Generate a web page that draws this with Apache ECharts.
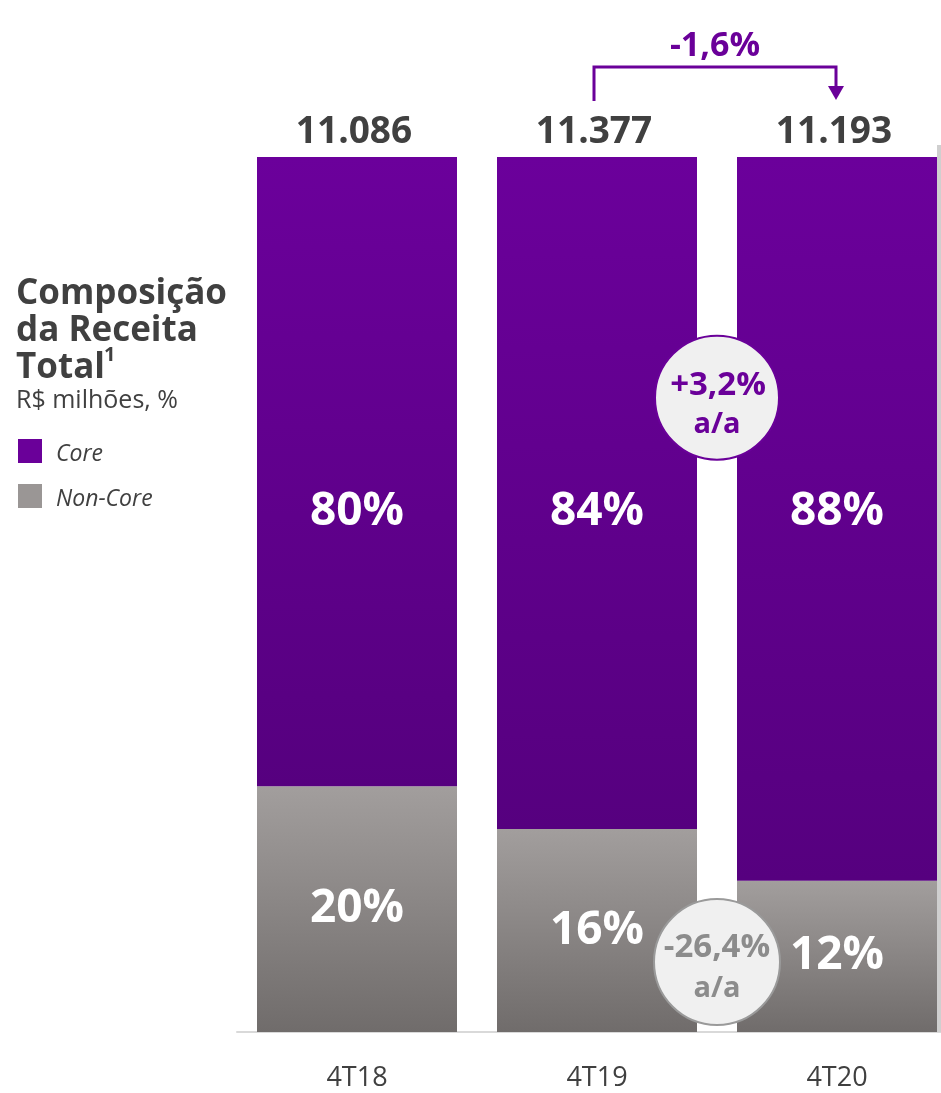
<!DOCTYPE html>
<html><head><meta charset="utf-8">
<script src="https://cdn.jsdelivr.net/npm/echarts@6/dist/echarts.min.js"></script>
<style>html,body{margin:0;padding:0;background:#fff}#c{width:941px;height:1093px}</style>
</head><body><div id="c"></div>
<script>
// Data
const categories = ['4T18', '4T19', '4T20'];
const totals = ['11.086', '11.377', '11.193'];
const coreLabels = ['80%', '84%', '88%'];
const nonCoreLabels = ['20%', '16%', '12%'];
// segment heights as drawn in the picture (share of bar height, %)
const nonCoreBar = [28.1, 23.2, 17.3];
const coreBar = nonCoreBar.map(v => +(100 - v).toFixed(1));
const variationTotal = '-1,6%';
const variationCore = '+3,2%';
const variationNonCore = '-26,4%';

const FONT = '"Open Sans", "Noto Sans", sans-serif';
const PURPLE = '#6a0099';
const DARK = '#404040';
const CORE_LABEL_LEVEL = 59.4; // axis value where core % labels sit

const chart = echarts.init(document.getElementById('c'));
const purpleGrad = new echarts.graphic.LinearGradient(0, 0, 0, 1, [
  {offset: 0, color: '#6b009b'}, {offset: 1, color: '#56007f'}]);
const grayGrad = new echarts.graphic.LinearGradient(0, 0, 0, 1, [
  {offset: 0, color: '#a29e9d'}, {offset: 1, color: '#706c6b'}]);

const option = {
  animation: false,
  grid: {left: 237, width: 720, top: 157, height: 875, outerBoundsMode: 'none', containLabel: false},
  xAxis: {
    type: 'category', data: categories,
    axisLine: {lineStyle: {color: '#d9d9d9', width: 2}},
    axisTick: {show: false},
    axisLabel: {color: DARK, fontFamily: FONT, fontSize: 27, margin: 33}
  },
  yAxis: {type: 'value', min: 0, max: 100, show: false},
  series: [
    {
      name: 'Non-Core', type: 'bar', stack: 't', barWidth: 200,
      data: nonCoreBar,
      itemStyle: {color: grayGrad},
      label: {show: true, position: 'inside', color: '#fff', fontFamily: FONT,
        fontWeight: 'bold', fontSize: 46,
        formatter: p => nonCoreLabels[p.dataIndex]}
    },
    {
      name: 'Core', type: 'bar', stack: 't', barWidth: 200,
      data: coreBar.map((v, i) => ({
        value: v,
        label: {position: ['50%', ((100 - CORE_LABEL_LEVEL) / v * 100).toFixed(2) + '%']}
      })),
      itemStyle: {color: purpleGrad},
      label: {show: true, color: '#fff', fontFamily: FONT, fontWeight: 'bold',
        fontSize: 46, align: 'center', verticalAlign: 'middle',
        formatter: p => coreLabels[p.dataIndex]}
    },
    {
      name: 'Total', type: 'scatter', symbolSize: 0,
      data: categories.map(() => 100),
      itemStyle: {opacity: 1},
      label: {show: true, position: 'top', distance: 7, offset: [-3, 0], color: DARK,
        fontFamily: FONT, fontWeight: 'bold', fontSize: 37, lineHeight: 36,
        formatter: p => totals[p.dataIndex]},
      silent: true
    }
  ],
  graphic: [
    {type: 'text', left: 16, top: 276, style: {text: 'Composição\nda Receita\nTotal', font: 'bold 35px ' + FONT, fill: DARK, lineHeight: 37}},
    {type: 'text', left: 104, top: 345, style: {text: '1', font: 'bold 20px ' + FONT, fill: DARK}},
    {type: 'text', left: 16, top: 388, style: {text: 'R$ milhões, %', font: '25px ' + FONT, fill: DARK}},
    {type: 'rect', shape: {x: 18, y: 439, width: 24, height: 24}, style: {fill: PURPLE}},
    {type: 'text', left: 56, top: 443, style: {text: 'Core', font: 'italic 23px ' + FONT, fill: DARK}},
    {type: 'rect', shape: {x: 18, y: 484, width: 24, height: 24}, style: {fill: '#9a9695'}},
    {type: 'text', left: 56, top: 488, style: {text: 'Non-Core', font: 'italic 23px ' + FONT, fill: DARK}}
  ]
};
chart.setOption(option);

// Annotations placed from axis scales
const px = (c, v) => chart.convertToPixel({gridIndex: 0}, [c, v]);
const p19 = px(1, 100), p20 = px(2, 100);
const midX = (px(1, 0)[0] + px(2, 0)[0]) / 2;
const yCore = px(1, 72.5)[1];
const yNon = px(1, 8)[1];
const arrowY = 67;
const Z = 100;
chart.setOption({graphic: option.graphic.concat([
  {type: 'polyline', z: Z, shape: {points: [[p19[0] - 3, 101], [p19[0] - 3, arrowY], [p20[0] - 1, arrowY], [p20[0] - 1, 90]]},
   style: {stroke: PURPLE, lineWidth: 3, fill: null}},
  {type: 'polygon', z: Z, shape: {points: [[p20[0] - 9, 86], [p20[0] + 7, 86], [p20[0] - 1, 100]]}, style: {fill: PURPLE}},
  {type: 'text', z: Z, x: (p19[0] + p20[0]) / 2 - 2, y: 46, style: {text: variationTotal, font: 'bold 34px ' + FONT, fill: PURPLE, align: 'center', verticalAlign: 'middle'}},
  {type: 'circle', z: Z, shape: {cx: midX, cy: yCore, r: 62}, style: {fill: '#f0f0f0', stroke: PURPLE, lineWidth: 2}},
  {type: 'text', z: Z + 1, x: midX + 1, y: yCore - 12, style: {text: variationCore, font: 'bold 33px ' + FONT, fill: PURPLE, align: 'center', verticalAlign: 'middle'}},
  {type: 'text', z: Z + 1, x: midX, y: yCore + 27, style: {text: 'a/a', font: 'bold 29px ' + FONT, fill: PURPLE, align: 'center', verticalAlign: 'middle'}},
  {type: 'circle', z: Z, shape: {cx: midX, cy: yNon, r: 63}, style: {fill: '#f0f0f0', stroke: '#9a9a9a', lineWidth: 2}},
  {type: 'text', z: Z + 1, x: midX, y: yNon - 14, style: {text: variationNonCore, font: 'bold 33px ' + FONT, fill: '#8c8c8c', align: 'center', verticalAlign: 'middle'}},
  {type: 'text', z: Z + 1, x: midX, y: yNon + 27, style: {text: 'a/a', font: 'bold 29px ' + FONT, fill: '#8c8c8c', align: 'center', verticalAlign: 'middle'}},
  {type: 'rect', z: Z, shape: {x: 937, y: 145, width: 4, height: px(2, 0)[1] - 145}, style: {fill: '#cfcfcf'}}
])});
</script></body></html>
